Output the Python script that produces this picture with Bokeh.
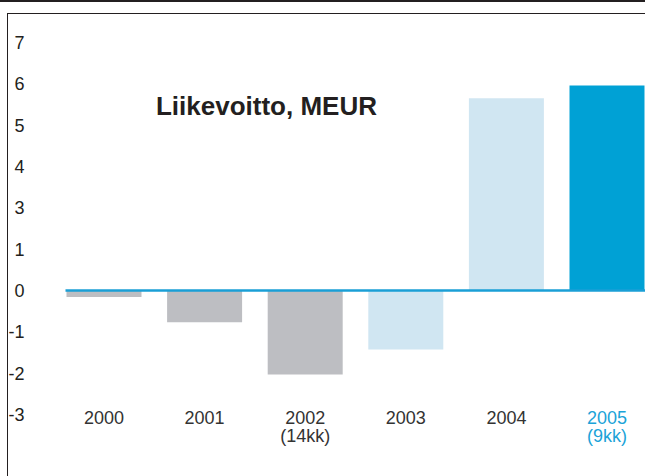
from bokeh.plotting import figure
from bokeh.models import FixedTicker, Label, ColumnDataSource, Range1d
from bokeh.core.properties import value
from bokeh.embed import file_html
from bokeh.resources import INLINE

# ---- data ----
years = ["2000", "2001", "2002", "2003", "2004", "2005"]
sub_labels = ["", "", "(14kk)", "", "", "(9kk)"]
profit = [-0.16, -0.77, -2.03, -1.43, 4.65, 4.96]
bar_colors = ["#bdbec2", "#bdbec2", "#bdbec2", "#d0e6f2", "#d0e6f2", "#00a1d5"]
label_colors = ["#333333", "#333333", "#333333", "#333333", "#333333", "#1ba3d8"]
y_tick_positions = [-3, -2, -1, 0, 1, 2, 3, 4, 5, 6]
y_tick_labels = ["-3", "-2", "-1", "0", "1", "3", "4", "5", "6", "7"]
title_text = "Liikevoitto, MEUR"

xs = list(range(len(years)))
bar_w = 0.7455

src = ColumnDataSource(dict(x=xs, top=profit, color=bar_colors, year=years,
                            sub=sub_labels, lcolor=label_colors))

p = figure(width=645, height=476, output_backend="svg", toolbar_location=None,
           x_range=Range1d(-0.7107, 5.3827), y_range=Range1d(-4.5004, 7.0167),
           x_axis_location=None,
           min_border_left=32, min_border_right=0, min_border_top=0, min_border_bottom=0)
# decorative frame rules (top rule, box top and box left edge)
p.styles = {"box-shadow": ("inset 0 2px 0 0 #231f20, inset 0 13px 0 0 #ffffff, "
                           "inset 7px 0 0 0 #ffffff, inset 8px 0 0 0 #231f20, "
                           "inset 0 14px 0 0 #231f20")}
p.grid.visible = False
p.outline_line_color = None
p.background_fill_color = None
p.border_fill_color = None

ax = p.yaxis[0]
ax.ticker = FixedTicker(ticks=y_tick_positions)
ax.major_label_overrides = {t: l for t, l in zip(y_tick_positions, y_tick_labels)}
ax.axis_line_color = None
ax.major_tick_line_color = None
ax.minor_tick_line_color = None
ax.major_label_standoff = 2
ax.major_label_text_font = "Liberation Sans"
ax.major_label_text_font_size = "18px"
ax.major_label_text_color = "#231f20"

p.vbar(x="x", top="top", bottom=0, width=bar_w, fill_color="color",
       line_color=None, source=src)

p.segment(x0=[xs[0] - bar_w / 2 - 0.01], x1=[p.x_range.end], y0=[0], y1=[0],
          line_color="#1a9fd6", line_width=2.5)

p.text(x="x", y=-3.07, text="year", text_color="lcolor", source=src,
       text_font=value("Liberation Sans"), text_font_size="18px",
       text_align="center", text_baseline="alphabetic")
p.text(x="x", y=-3.53, text="sub", text_color="lcolor", source=src,
       text_font=value("Liberation Sans"), text_font_size="18px",
       text_align="center", text_baseline="alphabetic")

p.add_layout(Label(x=1.615, y=4.476, text=title_text, text_font="Liberation Sans",
                   text_font_size="26px", text_font_style="bold",
                   text_color="#231f20", text_align="center",
                   text_baseline="alphabetic"))

open("out.html", "w").write(file_html(p, INLINE))
